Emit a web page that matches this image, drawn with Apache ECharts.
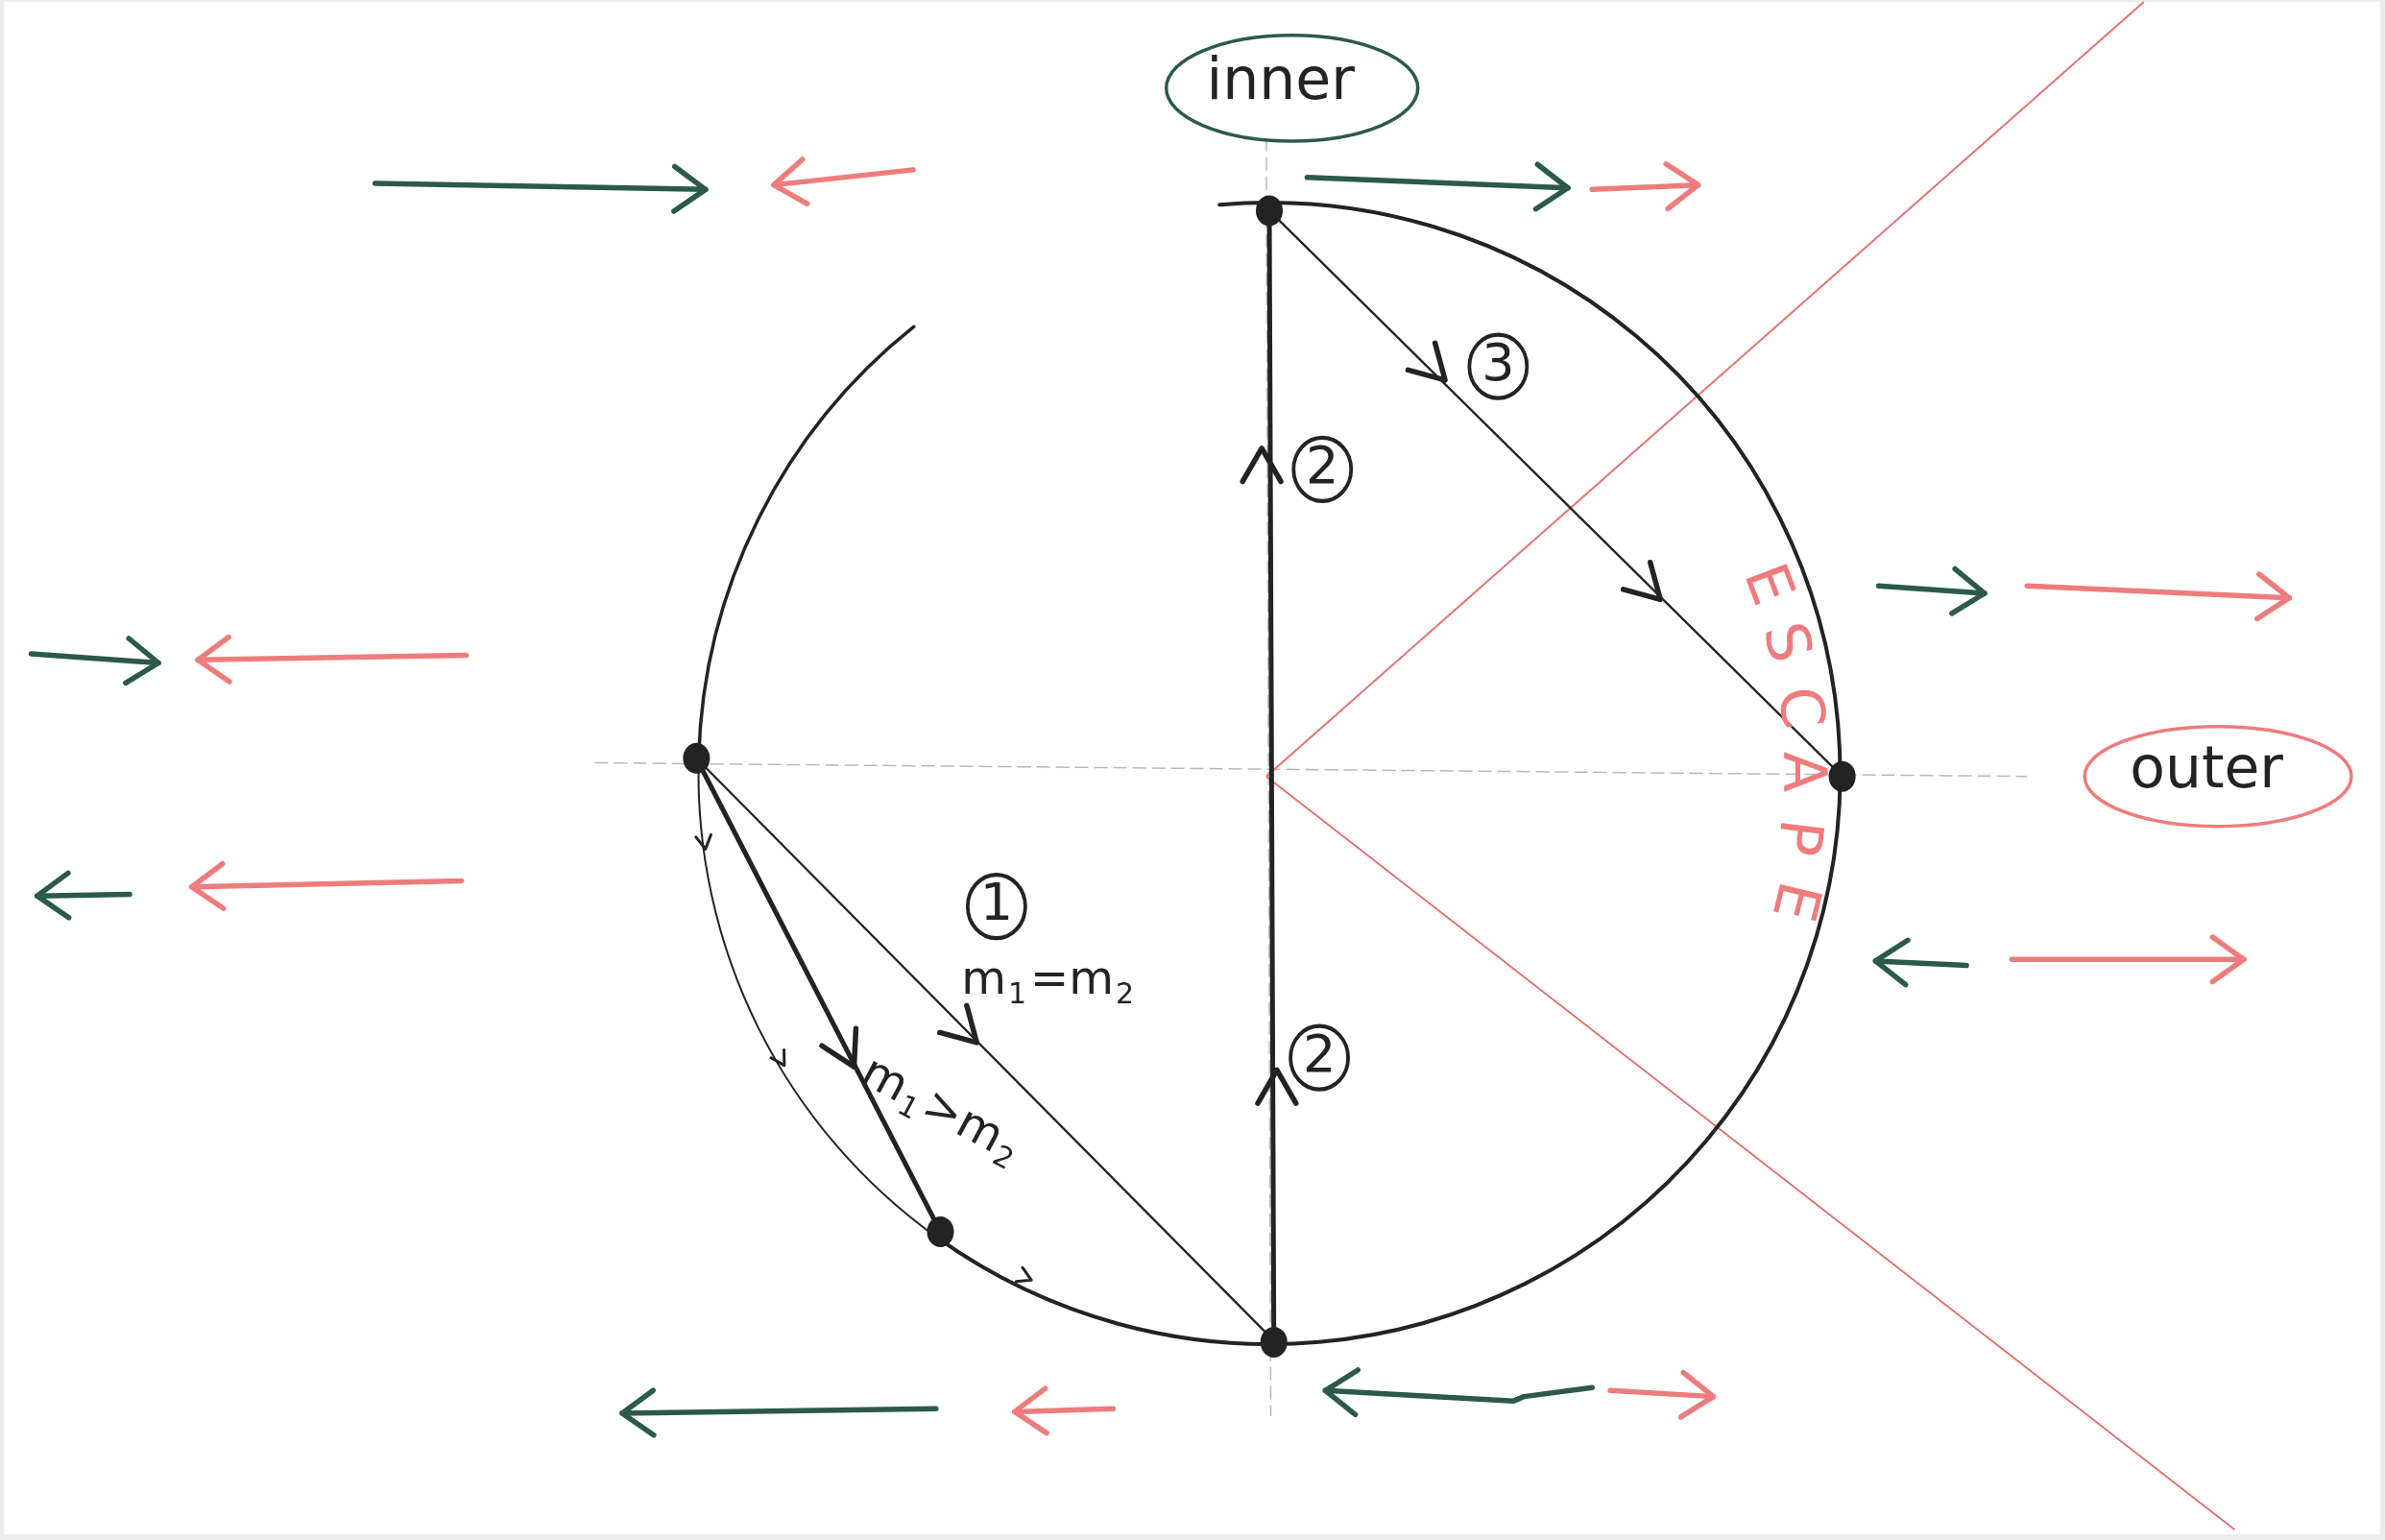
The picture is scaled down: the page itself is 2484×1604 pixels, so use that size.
<!DOCTYPE html>
<html>
<head>
<meta charset="utf-8">
<title>inner / outer</title>
<script src="https://cdn.jsdelivr.net/npm/echarts@6/dist/echarts.min.js"></script>
<style>
html, body { margin: 0; padding: 0; background: #ececec; }
#sketch { width: 2484px; height: 1604px; }
</style>
</head>
<body>
<div id="sketch"></div>
<script>
// the sketch is measured on a 1568 x 1013 sheet, y grows downwards
var sheetW = 1568, sheetH = 1013;

// big circle
var circleCenter = [835, 510];
var circleRadius = 377;
// arc pieces, degrees clockwise from +x on screen
var arcParts = [[-95, 125.6], [125.6, 181.5], [181.5, 231.5]];

// faint guide axes
var guideLines = [
	[[390, 503], [1335, 512]],
	[[833, 90], [836, 935]]
];
// red boundary rays
var redRays = [
	[[833, 512], [1412, 0]],
	[[833, 512], [1472, 1010]]
];
// black paths
var boldPaths = [
	[[838, 885], [835, 138]],
	[[457, 500], [618, 813]]
];
var thinPaths = [
	[[835, 138], [1213, 512]],
	[[457, 500], [838, 885]]
];
var bodies = [[835, 138], [457, 500], [618, 813], [838, 886], [1213, 512]];

// chevrons: apex x, apex y, direction (deg, clockwise from +x)
var pathChevrons = [
	[830, 295, -90], [840, 706, -90],
	[951, 250, 45], [1093, 395, 45],
	[642, 688, 45], [561, 704, 63]
];
var arcTicks = [[463, 560, 81], [515, 703, 59], [678, 845, 25]];

// green and red arrows, last point is the head
var greenArrows = [
	[[245, 120], [463, 124]],
	[[860, 116], [1032, 123]],
	[[18, 431], [102, 437]],
	[[83, 590], [22, 591]],
	[[1237, 386], [1307, 391]],
	[[1295, 637], [1235, 634]],
	[[615, 930], [408, 933]],
	[[1048, 916], [1003, 922], [996, 925], [872, 918]]
];
var redArrows = [
	[[600, 111], [508, 121]],
	[[1048, 124], [1118, 121]],
	[[305, 432], [128, 435]],
	[[302, 581], [124, 585]],
	[[1335, 386], [1508, 394]],
	[[1325, 633], [1478, 633]],
	[[732, 930], [667, 932]],
	[[1060, 918], [1128, 922]]
];

// circled step numbers
var stepNames = ['1', '2', '2', '3'];
var stepAt = [[655, 598], [870, 309], [868, 698], [986, 241]];

// labels
var badgeNames = ['inner', 'outer'];
var badgeAt = [[850, 57], [1461, 512]];
var badgeRadii = [[83, 35], [88, 33]];
var noteTexts = ['{m|m}{s|1}{m|=m}{s|2}', '{m|m}{s|1}{m|>m}{s|2}'];
var noteAt = [[690, 648], [619, 734]];
var noteTilt = [0, -28];
var escapeLetters = ['E', 'S', 'C', 'A', 'P', 'E'];
var escapeAt = [[1162, 386], [1174, 424], [1183, 467], [1185, 509], [1182, 552], [1180, 594]];

var ink = '#232323';
var green = '#2b5a48';
var salmon = '#ee7c7c';
var font = '"DejaVu Sans", sans-serif';

var chart = echarts.init(document.getElementById('sketch'));

function segData(list) {
	return list.map(function (c) { return { coords: c }; });
}

// shaft + open head drawn as strokes
function arrowItem(list, color) {
	return function (params, api) {
		var pts = list[api.value(2)].map(function (p) { return api.coord(p); });
		var n = pts.length, tip = pts[n - 1], prev = pts[n - 2];
		var a = Math.atan2(tip[1] - prev[1], tip[0] - prev[0]);
		var len = 40, spread = 0.62;
		var arm1 = [tip[0] - len * Math.cos(a - spread), tip[1] - len * Math.sin(a - spread)];
		var arm2 = [tip[0] - len * Math.cos(a + spread), tip[1] - len * Math.sin(a + spread)];
		var st = { stroke: color, fill: 'none', lineWidth: 5.5, lineCap: 'round', lineJoin: 'round' };
		return {
			type: 'group',
			children: [
				{ type: 'polyline', shape: { points: pts }, style: st },
				{ type: 'polyline', shape: { points: [arm1, tip, arm2] }, style: st }
			]
		};
	};
}

function chevronItem(len, width) {
	return function (params, api) {
		var tip = api.coord([api.value(0), api.value(1)]);
		var a = api.value(2) * Math.PI / 180, spread = 0.52;
		var arm1 = [tip[0] - len * Math.cos(a - spread), tip[1] - len * Math.sin(a - spread)];
		var arm2 = [tip[0] - len * Math.cos(a + spread), tip[1] - len * Math.sin(a + spread)];
		return {
			type: 'polyline',
			shape: { points: [arm1, tip, arm2] },
			style: { stroke: ink, fill: 'none', lineWidth: width, lineCap: 'round', lineJoin: 'round' }
		};
	};
}

var arcWidths = [4, 2, 3.5];

option = {
	backgroundColor: '#ececec',
	animation: false,
	grid: { left: 4, right: 5, top: 2, bottom: 6, show: true, backgroundColor: '#ffffff', borderWidth: 0 },
	xAxis: { type: 'value', min: 0, max: sheetW, show: false },
	yAxis: { type: 'value', min: 0, max: sheetH, inverse: true, show: false },
	series: [
		{
			type: 'lines', coordinateSystem: 'cartesian2d', silent: true,
			lineStyle: { color: '#9a9a9a', width: 1.5, type: [14, 6], opacity: 0.7 },
			data: segData(guideLines)
		},
		{
			type: 'lines', coordinateSystem: 'cartesian2d', silent: true,
			lineStyle: { color: '#e36d6d', width: 2, opacity: 0.95 },
			data: segData(redRays)
		},
		{
			// circle arcs
			type: 'custom', silent: true,
			data: arcParts.map(function (p, i) { return [circleCenter[0], circleCenter[1], i]; }),
			renderItem: function (params, api) {
				var c = api.coord(circleCenter);
				var s = api.size([circleRadius, circleRadius]);
				var part = arcParts[api.value(2)];
				return {
					type: 'arc',
					shape: {
						cx: c[0], cy: c[1], r: (s[0] + s[1]) / 2,
						startAngle: part[0] * Math.PI / 180, endAngle: part[1] * Math.PI / 180,
						clockwise: true
					},
					style: { stroke: ink, fill: 'none', lineWidth: arcWidths[api.value(2)], lineCap: 'round' }
				};
			}
		},
		{
			type: 'lines', coordinateSystem: 'cartesian2d', silent: true,
			lineStyle: { color: ink, width: 2.3, opacity: 1 },
			data: segData(thinPaths)
		},
		{
			type: 'lines', coordinateSystem: 'cartesian2d', silent: true,
			lineStyle: { color: ink, width: 5, cap: 'round', opacity: 1 },
			data: segData(boldPaths)
		},
		{
			type: 'custom', silent: true,
			data: pathChevrons,
			renderItem: chevronItem(40, 5.5)
		},
		{
			type: 'custom', silent: true,
			data: arcTicks,
			renderItem: chevronItem(16, 3)
		},
		{
			type: 'scatter', silent: true,
			symbol: 'circle', symbolSize: [28, 32],
			itemStyle: { color: ink, opacity: 1 },
			data: bodies
		},
		{
			type: 'custom', silent: true,
			data: greenArrows.map(function (a, i) { return [a[0][0], a[0][1], i]; }),
			renderItem: arrowItem(greenArrows, green)
		},
		{
			type: 'custom', silent: true,
			data: redArrows.map(function (a, i) { return [a[0][0], a[0][1], i]; }),
			renderItem: arrowItem(redArrows, salmon)
		},
		{
			// circled step numbers
			type: 'scatter', silent: true,
			symbol: 'circle', symbolSize: [60, 66],
			itemStyle: { color: '#ffffff', borderColor: ink, borderWidth: 4, opacity: 1 },
			label: { show: true, position: 'inside', formatter: '{b}', color: ink, fontSize: 54, fontFamily: font },
			data: stepAt.map(function (p, i) { return { name: stepNames[i], value: p }; })
		},
		{
			// inner / outer badges
			type: 'custom', silent: true,
			data: badgeAt.map(function (p, i) { return [p[0], p[1], i]; }),
			renderItem: function (params, api) {
				var i = api.value(2);
				var c = api.coord(badgeAt[i]);
				var s = api.size(badgeRadii[i]);
				return {
					type: 'group',
					children: [
						{
							type: 'ellipse',
							shape: { cx: c[0], cy: c[1], rx: s[0], ry: s[1] },
							style: { stroke: i === 0 ? green : salmon, fill: 'none', lineWidth: 3.5 }
						},
						{
							type: 'text', x: c[0] - 12, y: c[1] - 4,
							style: {
								text: badgeNames[i], fill: ink, font: '60px ' + font,
								align: 'center', verticalAlign: 'middle'
							}
						}
					]
				};
			}
		},
		{
			// mass notes
			type: 'custom', silent: true,
			data: noteAt.map(function (p, i) { return [p[0], p[1], i]; }),
			renderItem: function (params, api) {
				var i = api.value(2);
				var c = api.coord(noteAt[i]);
				return {
					type: 'text', x: c[0], y: c[1], rotation: noteTilt[i] * Math.PI / 180,
					style: {
						text: noteTexts[i], fill: ink,
						align: 'center', verticalAlign: 'middle',
						rich: {
							m: { fontSize: 48, fontFamily: font, fill: ink, lineHeight: 58 },
							s: { fontSize: 30, fontFamily: font, fill: ink, lineHeight: 36, padding: [28, 4, 0, 2] }
						}
					}
				};
			}
		},
		{
			// ESCAPE along the rim
			type: 'custom', silent: true,
			data: escapeAt.map(function (p, i) { return [p[0], p[1], i]; }),
			renderItem: function (params, api) {
				var i = api.value(2);
				var p = escapeAt[i];
				var c = api.coord(p);
				var phi = Math.atan2(p[1] - circleCenter[1], p[0] - circleCenter[0]);
				return {
					type: 'text', x: c[0], y: c[1], rotation: -(phi + Math.PI / 2),
					style: {
						text: escapeLetters[i], fill: salmon, font: '62px ' + font,
						align: 'center', verticalAlign: 'middle'
					}
				};
			}
		}
	]
};

chart.setOption(option);
</script>
</body>
</html>
